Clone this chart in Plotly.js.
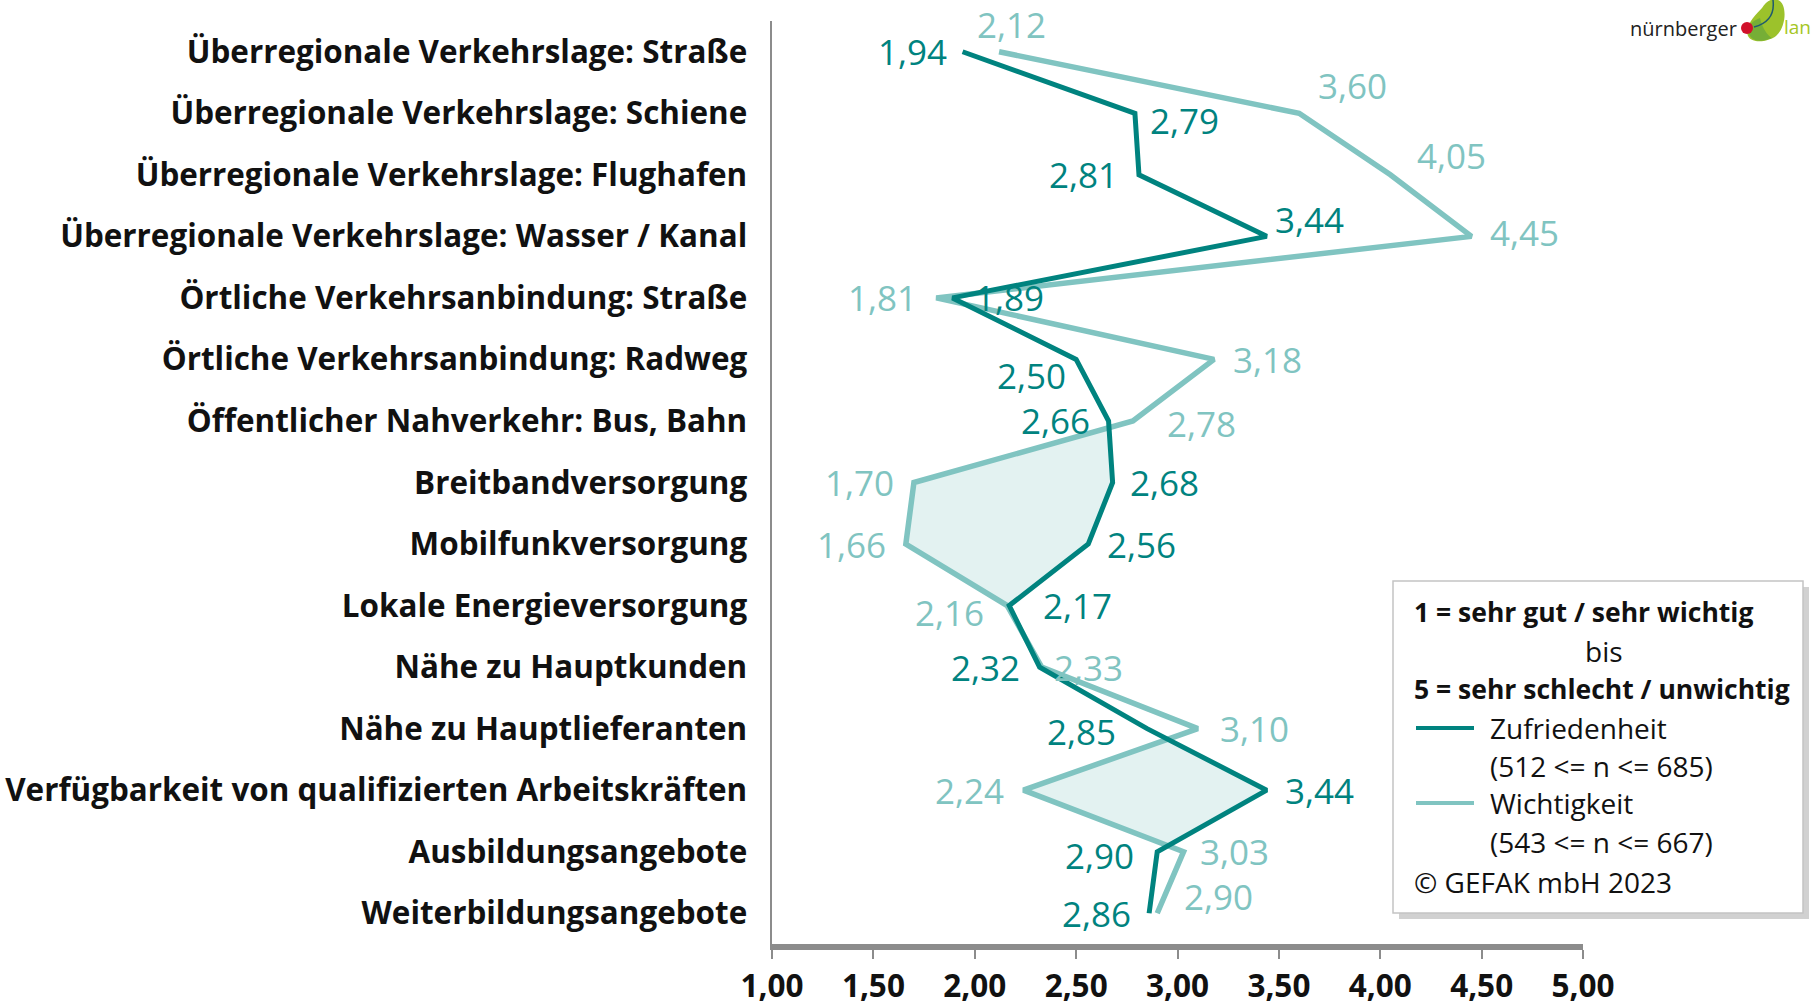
<!DOCTYPE html>
<html>
<head>
<meta charset="utf-8">
<script src="https://cdn.plot.ly/plotly-3.0.1.min.js"></script>
<style>html,body{margin:0;padding:0;background:#fff;}#chart{width:1812px;height:1006px;}</style>
</head>
<body>
<div id="chart"></div>
<script>
// ---------- data ----------
const categories = [
  "Überregionale Verkehrslage: Straße",
  "Überregionale Verkehrslage: Schiene",
  "Überregionale Verkehrslage: Flughafen",
  "Überregionale Verkehrslage: Wasser / Kanal",
  "Örtliche Verkehrsanbindung: Straße",
  "Örtliche Verkehrsanbindung: Radweg",
  "Öffentlicher Nahverkehr: Bus, Bahn",
  "Breitbandversorgung",
  "Mobilfunkversorgung",
  "Lokale Energieversorgung",
  "Nähe zu Hauptkunden",
  "Nähe zu Hauptlieferanten",
  "Verfügbarkeit von qualifizierten Arbeitskräften",
  "Ausbildungsangebote",
  "Weiterbildungsangebote"
];
const zufriedenheit = [1.94, 2.79, 2.81, 3.44, 1.89, 2.50, 2.66, 2.68, 2.56, 2.17, 2.32, 2.85, 3.44, 2.90, 2.86];
const wichtigkeit   = [2.12, 3.60, 4.05, 4.45, 1.81, 3.18, 2.78, 1.70, 1.66, 2.16, 2.33, 3.10, 2.24, 3.03, 2.90];
const xTickVals = [1.0, 1.5, 2.0, 2.5, 3.0, 3.5, 4.0, 4.5, 5.0];
const xTickText = ["1,00", "1,50", "2,00", "2,50", "3,00", "3,50", "4,00", "4,50", "5,00"];
const legendTexts = ["1 = sehr gut / sehr wichtig", "bis", "5 = sehr schlecht / unwichtig",
  "Zufriedenheit", "(512 <= n <= 685)", "Wichtigkeit", "(543 <= n <= 667)", "© GEFAK mbH 2023"];

// label placement (pixel offsets of label centre from its point; +dy = downwards)
const zLabelDx = [-50, 50, -55, 43, 57, -45, -53, 52, 53, 68, -54, -66, 53, -58, -53];
const zLabelDy = [0, 7, 0, -17, 0, 16, 0, 0, 0, 0, 0, 3, 0, 4, 0];
const wLabelDx = [12, 53, 61, 53, -54, 53, 69, -54, -54, -58, 47, 57, -54, 51, 61];
const wLabelDy = [-27, -28, -19, -4, 0, 0, 3, 0, 0, 7, 0, 0, 0, 0, -17];

// ---------- styles ----------
const DARK = "#00837F";
const LIGHT = "#80C4C1";
const FILL = "rgba(128,196,193,0.22)";
const LABEL_FONT = "'Open Sans', sans-serif";
const NUM_FONT = "'Open Sans', sans-serif";

const W = 1812, H = 1006;
const M = {l: 772, r: 229, t: 21, b: 62};
const PW = W - M.l - M.r, PH = H - M.t - M.b;
const px = x => (x - M.l) / PW;
const py = y => 1 - (y - M.t) / PH;

const idx = categories.map((_, i) => i);
const fmt = v => v.toFixed(2).replace(".", ",");

// ---------- shaded regions where Wichtigkeit < Zufriedenheit ----------
function gapRegions() {
  const regions = [];
  let wPts = null, zPts = null;
  const d = zufriedenheit.map((z, i) => z - wichtigkeit[i]);
  for (let i = 0; i < d.length; i++) {
    const cross = () => {
      const t = d[i - 1] / (d[i - 1] - d[i]);
      const x = wichtigkeit[i - 1] + t * (wichtigkeit[i] - wichtigkeit[i - 1]);
      return [x, i - 1 + t];
    };
    if (d[i] > 0) {
      if (!wPts) {
        wPts = []; zPts = [];
        if (i > 0) { const c = cross(); wPts.push(c); zPts.push(c); }
      }
      wPts.push([wichtigkeit[i], i]);
      zPts.push([zufriedenheit[i], i]);
    } else if (wPts) {
      const c = cross(); wPts.push(c);
      regions.push(wPts.concat(zPts.slice().reverse()));
      wPts = null; zPts = null;
    }
  }
  if (wPts) regions.push(wPts.concat(zPts.slice().reverse()));
  return regions;
}

const traces = [];
gapRegions().forEach(poly => {
  traces.push({
    type: "scatter", mode: "lines",
    x: poly.map(p => p[0]), y: poly.map(p => p[1]),
    fill: "toself", fillcolor: FILL,
    line: {width: 0, color: "rgba(0,0,0,0)"},
    hoverinfo: "skip", showlegend: false
  });
});
traces.push({
  type: "scatter", mode: "lines", name: "Wichtigkeit",
  x: wichtigkeit, y: idx,
  line: {color: LIGHT, width: 5.5, shape: "linear"},
  showlegend: false
});
traces.push({
  type: "scatter", mode: "lines", name: "Zufriedenheit",
  x: zufriedenheit, y: idx,
  line: {color: DARK, width: 5, shape: "linear"},
  showlegend: false
});

// ---------- annotations ----------
const annotations = [];
wichtigkeit.forEach((v, i) => annotations.push({
  x: v, y: i, xref: "x", yref: "y", text: fmt(v), showarrow: false,
  xshift: wLabelDx[i], yshift: -wLabelDy[i], xanchor: "center", yanchor: "middle",
  borderpad: 0,
  font: {family: NUM_FONT, size: 35, color: LIGHT}
}));
zufriedenheit.forEach((v, i) => annotations.push({
  x: v, y: i, xref: "x", yref: "y", text: fmt(v), showarrow: false,
  xshift: zLabelDx[i], yshift: -zLabelDy[i], xanchor: "center", yanchor: "middle",
  borderpad: 0,
  font: {family: NUM_FONT, size: 35, color: DARK}
}));

// legend box content
const legRows = [
  {t: legendTexts[0], x: 1412, y: 612, bold: true, anchor: "left"},
  {t: legendTexts[1], x: 1604, y: 651, bold: false, anchor: "center"},
  {t: legendTexts[2], x: 1412, y: 689, bold: true, anchor: "left"},
  {t: legendTexts[3], x: 1488, y: 728, bold: false, anchor: "left"},
  {t: legendTexts[4], x: 1488, y: 766, bold: false, anchor: "left"},
  {t: legendTexts[5], x: 1488, y: 803, bold: false, anchor: "left"},
  {t: legendTexts[6], x: 1488, y: 842, bold: false, anchor: "left"},
  {t: legendTexts[7], x: 1412, y: 882, bold: false, anchor: "left"}
];
legRows.forEach(r => annotations.push({
  xref: "paper", yref: "paper", x: px(r.x), y: py(r.y), text: r.t, showarrow: false,
  xanchor: r.anchor, yanchor: "middle",
  font: {family: LABEL_FONT, size: r.bold ? 26.5 : 28, color: "#111", weight: r.bold ? 700 : 400}
}));

// logo text
annotations.push({
  xref: "paper", yref: "paper", x: px(1739), y: py(29), text: "nürnberger", showarrow: false,
  xanchor: "right", yanchor: "middle",
  font: {family: LABEL_FONT, size: 20, color: "#222"}
});
annotations.push({
  xref: "paper", yref: "paper", x: px(1783), y: py(27), text: "lan", showarrow: false,
  xanchor: "left", yanchor: "middle", borderpad: 0,
  font: {family: LABEL_FONT, size: 19, color: "#A5C624"}
});

// ---------- shapes ----------
const shapes = [
  // legend shadow + box
  {type: "rect", xref: "paper", yref: "paper", x0: px(1399), x1: px(1809), y0: py(587), y1: py(919),
   fillcolor: "rgba(0,0,0,0.18)", line: {width: 0}, layer: "above"},
  {type: "rect", xref: "paper", yref: "paper", x0: px(1393), x1: px(1803), y0: py(581), y1: py(913),
   fillcolor: "#fff", line: {color: "#c4c4c4", width: 1.5}, layer: "above"},
  // legend line samples
  {type: "line", xref: "paper", yref: "paper", x0: px(1416), x1: px(1474), y0: py(728), y1: py(728),
   line: {color: DARK, width: 4}, layer: "above"},
  {type: "line", xref: "paper", yref: "paper", x0: px(1416), x1: px(1474), y0: py(803), y1: py(803),
   line: {color: LIGHT, width: 4}, layer: "above"},
  // logo
  {type: "path", xref: "paper", yref: "paper", layer: "above",
   path: `M ${px(1748)} ${py(36)} C ${px(1744)} ${py(26)}, ${px(1756)} ${py(14)}, ${px(1762)} ${py(8)} C ${px(1766)} ${py(2)}, ${px(1770)} ${py(-2)}, ${px(1778)} ${py(0)} C ${px(1788)} ${py(4)}, ${px(1786)} ${py(28)}, ${px(1776)} ${py(36)} C ${px(1768)} ${py(42)}, ${px(1752)} ${py(44)}, ${px(1748)} ${py(36)} Z`,
   fillcolor: "#9CC22B", line: {width: 0}},
  {type: "path", xref: "paper", yref: "paper", layer: "above",
   path: `M ${px(1749)} ${py(34)} C ${px(1746)} ${py(26)}, ${px(1754)} ${py(20)}, ${px(1760)} ${py(18)} C ${px(1762)} ${py(28)}, ${px(1768)} ${py(36)}, ${px(1772)} ${py(38)} C ${px(1762)} ${py(42)}, ${px(1752)} ${py(42)}, ${px(1749)} ${py(34)} Z`,
   fillcolor: "#76AE36", line: {width: 0}},
  {type: "path", xref: "paper", yref: "paper", layer: "above",
   path: `M ${px(1754)} ${py(27)} C ${px(1766)} ${py(24)}, ${px(1775)} ${py(16)}, ${px(1773)} ${py(0)}`,
   line: {color: "#1f5a6e", width: 1.5}},
  {type: "circle", xref: "paper", yref: "paper", layer: "above",
   x0: px(1741), x1: px(1753), y0: py(22), y1: py(34), fillcolor: "#D0112B", line: {width: 0}}
];

const layout = {
  width: W, height: H,
  margin: M,
  paper_bgcolor: "#fff", plot_bgcolor: "#fff",
  showlegend: false,
  xaxis: {
    range: [1, 5], tickvals: xTickVals, ticktext: xTickText,
    showline: true, linecolor: "#8c8c8c", linewidth: 6,
    ticks: "outside", ticklen: 9, tickwidth: 2, tickcolor: "#8c8c8c",
    showgrid: false, zeroline: false, fixedrange: true,
    tickfont: {family: NUM_FONT, size: 31.5, color: "#111", weight: 700}
  },
  yaxis: {
    range: [14.5, -0.5], tickvals: idx, ticktext: categories,
    showline: true, linecolor: "#8c8c8c", linewidth: 2.5,
    ticks: "outside", ticklen: 16, tickcolor: "rgba(0,0,0,0)",
    showgrid: false, zeroline: false, fixedrange: true,
    tickfont: {family: LABEL_FONT, size: 31.4, color: "#111", weight: 700}
  },
  annotations: annotations,
  shapes: shapes
};

Plotly.newPlot("chart", traces, layout, {displayModeBar: false, staticPlot: true});
</script>
</body>
</html>
